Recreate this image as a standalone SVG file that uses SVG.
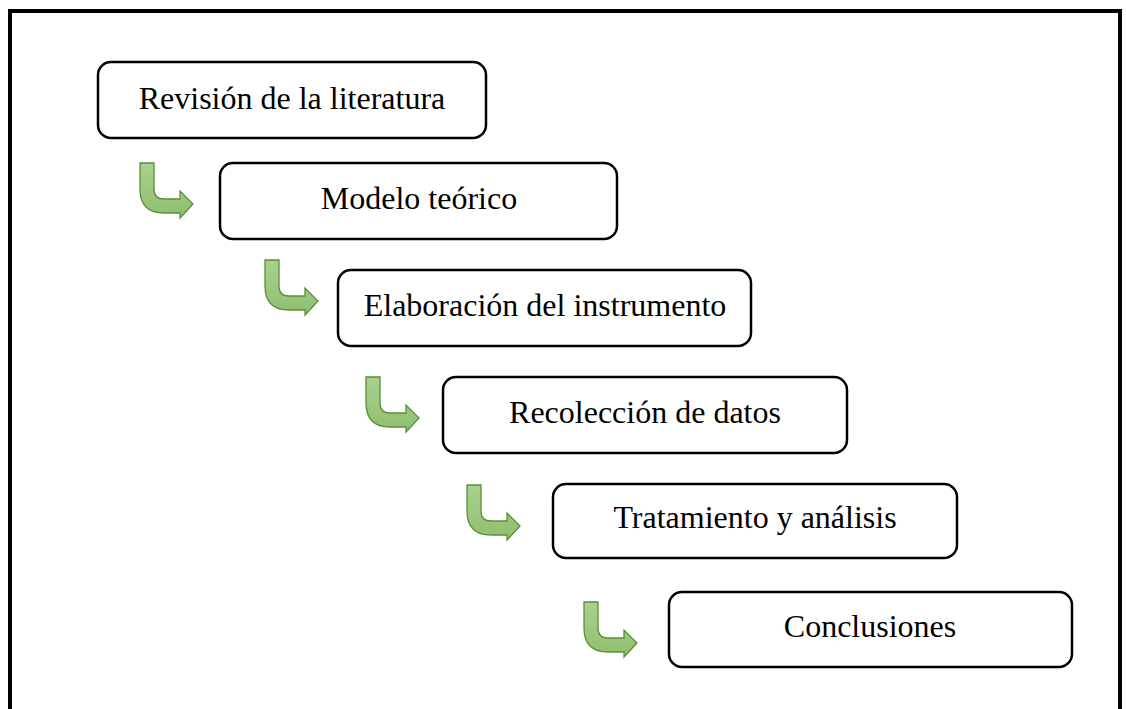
<svg xmlns="http://www.w3.org/2000/svg" width="1126" height="709" viewBox="0 0 1126 709">
<style>
.box{fill:#fff;stroke:#000;stroke-width:2.5}
.lbl{font-family:"Liberation Serif","Times New Roman",serif;font-size:32px;fill:#000;text-anchor:middle}
.arr{fill:url(#g);stroke:#5b8f3a;stroke-width:1.3}
</style>
<defs>
<linearGradient id="g" x1="0" y1="0" x2="0" y2="1">
<stop offset="0" stop-color="#a9d18e"/>
<stop offset="1" stop-color="#8fbf6f"/>
</linearGradient>
<path id="bent" d="M0,0 L14,0 L14,26 Q14,36 24,36 L40,36 L40,28 L53,41 L40,55 L40,50 L24,50 Q0,50 0,26 Z"/>
</defs>
<rect width="1126" height="709" fill="#fff"/>
<path d="M10,709 L10,11 L1120,11 L1120,709" fill="none" stroke="#000" stroke-width="4"/>
<g id="connectors">
<use href="#bent" class="arr" x="140" y="163"/>
<use href="#bent" class="arr" x="265" y="260"/>
<use href="#bent" class="arr" x="366" y="377"/>
<use href="#bent" class="arr" x="467" y="485"/>
<use href="#bent" class="arr" x="584" y="602"/>
</g>
<g id="n1"><rect class="box" x="98" y="62" width="388" height="76" rx="13"/><text class="lbl" x="292" y="109">Revisión de la literatura</text></g>
<g id="n2"><rect class="box" x="220" y="163" width="397" height="76" rx="13"/><text class="lbl" x="419" y="209">Modelo teórico</text></g>
<g id="n3"><rect class="box" x="338" y="270" width="413" height="76" rx="13"/><text class="lbl" x="545" y="316">Elaboración del instrumento</text></g>
<g id="n4"><rect class="box" x="443" y="377" width="404" height="76" rx="13"/><text class="lbl" x="645" y="423">Recolección de datos</text></g>
<g id="n5"><rect class="box" x="553" y="484" width="404" height="74" rx="13"/><text class="lbl" x="755" y="528">Tratamiento y análisis</text></g>
<g id="n6"><rect class="box" x="669" y="592" width="403" height="75" rx="13"/><text class="lbl" x="870" y="637">Conclusiones</text></g>
</svg>
